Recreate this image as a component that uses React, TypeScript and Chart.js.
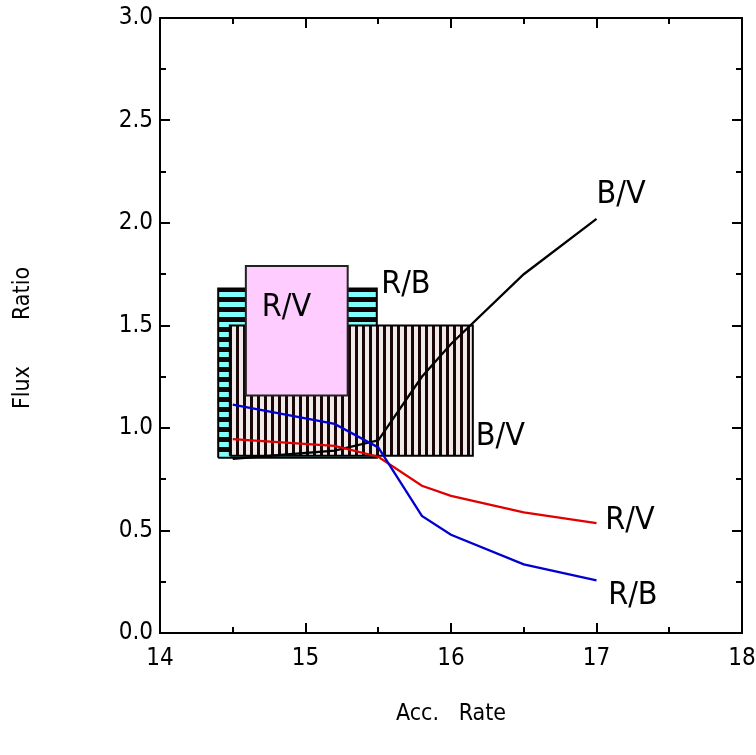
import React, { useEffect, useRef } from "react";
import { Chart, registerables } from "chart.js";

Chart.register(...registerables);

// ---- data ----
const accRate = [14.5, 15.2, 15.5, 15.8, 16.0, 16.5, 17.0];
const ratioRV = [0.946, 0.913, 0.86, 0.718, 0.669, 0.588, 0.536];
const ratioRB = [1.114, 1.02, 0.905, 0.571, 0.479, 0.335, 0.257];
const ratioBV = [0.85, 0.89, 0.94, 1.25, 1.41, 1.75, 2.02];

// observed ranges (boxes): [xMin, xMax, yMin, yMax]
const boxRB = [14.4, 15.49, 0.855, 1.68];
const boxBV = [14.48, 16.15, 0.865, 1.5];
const boxRV = [14.59, 15.29, 1.158, 1.79];

// text annotations
const noteTexts = ["B/V", "R/B", "R/V", "B/V", "R/V", "R/B"];
const noteX = [17.0, 15.52, 14.7, 16.17, 17.06, 17.08];
const noteY = [2.14, 1.7, 1.585, 0.96, 0.55, 0.18];

const xTickValues = [14, 15, 16, 17, 18];
const yTickValues = [0, 0.5, 1.0, 1.5, 2.0, 2.5, 3.0];

const FONT = "'DejaVu Sans Condensed', 'DejaVu Sans'";

function boxPoints(b: number[]) {
  return [
    { x: b[0], y: b[2] },
    { x: b[0], y: b[3] },
    { x: b[1], y: b[3] },
    { x: b[1], y: b[2] },
    { x: b[0], y: b[2] },
  ];
}

function makePattern(kind: "h" | "v") {
  const c = document.createElement("canvas");
  const ctx = c.getContext("2d")!;
  if (kind === "h") {
    c.width = 10;
    c.height = 10;
    ctx.fillStyle = "#140404";
    ctx.fillRect(0, 0, 10, 10);
    ctx.fillStyle = "#80ffff";
    ctx.fillRect(0, 2, 10, 5);
  } else {
    c.width = 7;
    c.height = 7;
    ctx.fillStyle = "#1a0606";
    ctx.fillRect(0, 0, 7, 7);
    ctx.fillStyle = "#f0eaea";
    ctx.fillRect(1, 0, 4, 7);
  }
  return ctx.createPattern(c, "repeat")!;
}

const framePlugin = {
  id: "frameTicks",
  afterDatasetsDraw(chart: any) {
    const { ctx, chartArea, scales } = chart;
    const xs = scales.x;
    const ys = scales.y;
    ctx.save();
    // annotations
    ctx.fillStyle = "#000";
    ctx.font = `32px ${FONT}`;
    ctx.textAlign = "left";
    ctx.textBaseline = "middle";
    noteTexts.forEach((t, i) => {
      ctx.fillText(t, xs.getPixelForValue(noteX[i]), ys.getPixelForValue(noteY[i]));
    });
    // frame
    ctx.strokeStyle = "#000";
    ctx.lineWidth = 2;
    ctx.strokeRect(chartArea.left, chartArea.top, chartArea.right - chartArea.left, chartArea.bottom - chartArea.top);
    // ticks
    ctx.lineWidth = 2;
    ctx.beginPath();
    for (let v = 14; v <= 18.001; v += 0.5) {
      const px = Math.round(xs.getPixelForValue(v));
      const len = Math.abs(v - Math.round(v)) < 1e-6 ? 10 : 6;
      ctx.moveTo(px, chartArea.bottom);
      ctx.lineTo(px, chartArea.bottom - len);
      ctx.moveTo(px, chartArea.top);
      ctx.lineTo(px, chartArea.top + len);
    }
    for (let v = 0; v <= 3.001; v += 0.25) {
      const py = Math.round(ys.getPixelForValue(v));
      const len = Math.abs(v * 2 - Math.round(v * 2)) < 1e-6 ? 10 : 6;
      ctx.moveTo(chartArea.left, py);
      ctx.lineTo(chartArea.left + len, py);
      ctx.moveTo(chartArea.right, py);
      ctx.lineTo(chartArea.right - len, py);
    }
    ctx.stroke();
    // axis titles
    ctx.font = `23px ${FONT}`;
    ctx.textAlign = "center";
    ctx.textBaseline = "middle";
    ctx.fillText("Acc.   Rate", (chartArea.left + chartArea.right) / 2, 714);
    ctx.translate(23, 338);
    ctx.rotate(-Math.PI / 2);
    ctx.fillText("Flux       Ratio", 0, 0);
    ctx.restore();
  },
};

export default function App() {
  const ref = useRef<HTMLCanvasElement>(null);
  useEffect(() => {
    const canvas = ref.current!;
    const mk = (pts: any[], color: string, order: number) => ({
      type: "line" as const,
      data: pts,
      borderColor: color,
      borderWidth: 2.3,
      pointRadius: 0,
      fill: false,
      tension: 0,
      order,
    });
    const chart = new Chart(canvas, {
      type: "line",
      data: {
        datasets: [
          {
            data: boxPoints(boxRB),
            borderColor: "#000",
            borderWidth: 2,
            backgroundColor: makePattern("h"),
            fill: "shape",
            pointRadius: 0,
            order: 9,
          } as any,
          {
            data: boxPoints(boxBV),
            borderColor: "#000",
            borderWidth: 2,
            backgroundColor: makePattern("v"),
            fill: "shape",
            pointRadius: 0,
            order: 8,
          } as any,
          {
            data: boxPoints(boxRV),
            borderColor: "#222",
            borderWidth: 2,
            backgroundColor: "#ffccff",
            fill: "shape",
            pointRadius: 0,
            order: 7,
          } as any,
          mk(accRate.map((x, i) => ({ x, y: ratioBV[i] })), "#000000", 3),
          mk(accRate.map((x, i) => ({ x, y: ratioRV[i] })), "#e00000", 2),
          mk(accRate.map((x, i) => ({ x, y: ratioRB[i] })), "#0000d0", 1),
        ],
      },
      options: {
        responsive: false,
        animation: false,
        layout: { padding: { top: 18, right: 14, left: 0, bottom: 0 } },
        plugins: { legend: { display: false }, tooltip: { enabled: false } },
        scales: {
          x: {
            type: "linear",
            min: 14,
            max: 18,
            afterBuildTicks: (s: any) => {
              s.ticks = xTickValues.map((v) => ({ value: v }));
            },
            afterFit: (s: any) => {
              s.height = 122;
              s.paddingLeft = 0;
              s.paddingRight = 0;
            },
            ticks: {
              color: "#000",
              font: { family: FONT, size: 24 },
              padding: 11,
              maxRotation: 0,
              callback: (v: any) => String(v),
            },
            grid: { display: false, drawTicks: false },
            border: { display: false },
          },
          y: {
            type: "linear",
            min: 0,
            max: 3,
            afterBuildTicks: (s: any) => {
              s.ticks = yTickValues.map((v) => ({ value: v }));
            },
            afterFit: (s: any) => {
              s.width = 160;
              s.paddingTop = 0;
              s.paddingBottom = 0;
            },
            ticks: {
              color: "#000",
              font: { family: FONT, size: 24 },
              padding: 7,
              callback: (v: any) => Number(v).toFixed(1),
            },
            grid: { display: false, drawTicks: false },
            border: { display: false },
          },
        },
      },
      plugins: [framePlugin],
    });
    return () => chart.destroy();
  }, []);
  return (
    <div style={{ position: "absolute", left: 0, top: 0, width: 756, height: 755, background: "#fff" }}>
      <canvas ref={ref} width={756} height={755} />
    </div>
  );
}
